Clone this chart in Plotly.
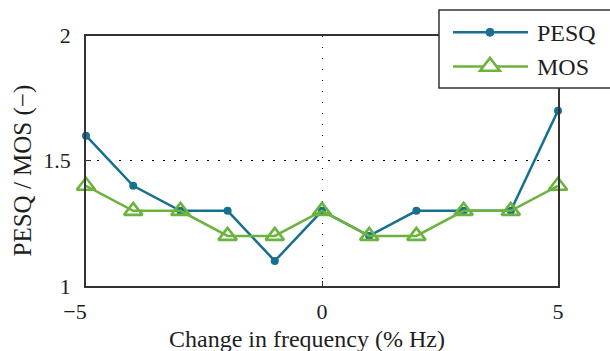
import plotly.graph_objects as go

freq_change = [-5, -4, -3, -2, -1, 0, 1, 2, 3, 4, 5]
pesq = [1.6, 1.4, 1.3, 1.3, 1.1, 1.3, 1.2, 1.3, 1.3, 1.3, 1.7]
mos = [1.4, 1.3, 1.3, 1.2, 1.2, 1.3, 1.2, 1.2, 1.3, 1.3, 1.4]
x_ticks = [-5, 0, 5]
x_ticktext = ["\u22125\u2007\u2007", "0", "5"]
y_ticks = [1, 1.5, 2]
y_ticktext = ["1", "1.5", "2"]
series_names = ["PESQ", "MOS"]

W, H = 610, 351
BLUE = "#17708f"
GREEN = "#6cb33e"
FONT = "Liberation Serif"
TXT = "#1e1e1e"
AX = "#333333"


def px(x):
    return x / W


def py(y):
    return 1 - y / H


fig = go.Figure()
fig.add_trace(go.Scatter(x=freq_change, y=pesq, mode="lines+markers", name=series_names[0],
                         line=dict(color=BLUE, width=2.5),
                         marker=dict(symbol="circle", size=8, color=BLUE),
                         cliponaxis=False, showlegend=False))
fig.add_trace(go.Scatter(x=freq_change, y=mos, mode="lines+markers", name=series_names[1],
                         line=dict(color=GREEN, width=2.5),
                         marker=dict(symbol="triangle-up-open", size=16, color=GREEN,
                                     line=dict(width=2.6, color=GREEN)),
                         cliponaxis=False, showlegend=False))

L, R, T, B = 86, 558, 35.5, 286
axis_common = dict(showline=True, mirror=True, linecolor=AX, linewidth=1.5,
                   showgrid=True, gridcolor="black", griddash="1.5px,9.5px", gridwidth=1.2,
                   zeroline=False, ticks="inside", ticklen=5, tickcolor=AX, tickwidth=1.2,
                   automargin=False,
                   tickfont=dict(family=FONT, size=22, color=TXT))
fig.update_layout(
    width=W, height=H, margin=dict(l=0, r=0, t=0, b=0, autoexpand=False),
    paper_bgcolor="white", plot_bgcolor="white", showlegend=False,
    xaxis=dict(domain=[px(L), px(R)], range=[-5, 5], tickvals=x_ticks, ticktext=x_ticktext,
               ticklabelstandoff=5, **axis_common),
    yaxis=dict(domain=[py(B), py(T)], range=[1, 2], tickvals=y_ticks, ticktext=y_ticktext,
               ticklabelstandoff=9, **axis_common),
)

# axis titles
fig.add_annotation(text="Change in frequency (% Hz)", x=px(307), y=py(338.5), xref="paper", yref="paper",
                   xanchor="center", yanchor="middle",
                   showarrow=False, font=dict(family=FONT, size=24, color=TXT))
fig.add_annotation(text="PESQ / MOS (\u2212)", x=px(22.5), y=py(171), xref="paper", yref="paper",
                   xanchor="center", yanchor="middle",
                   textangle=-90, showarrow=False, font=dict(family=FONT, size=25, color=TXT))

# manual legend (pixel positions converted to paper)
fig.add_shape(type="rect", xref="paper", yref="paper", x0=px(439), x1=px(640), y0=py(10), y1=py(88),
              line=dict(color=AX, width=1.5), fillcolor="white", layer="above")
rows = [(32.3, BLUE, "circle"), (66.5, GREEN, "triangle")]
for (yy, col, kind), name in zip(rows, series_names):
    fig.add_shape(type="line", xref="paper", yref="paper", x0=px(453), x1=px(528), y0=py(yy), y1=py(yy),
                  line=dict(color=col, width=2.5), layer="above")
    if kind == "circle":
        fig.add_shape(type="circle", xref="paper", yref="paper", x0=px(486), x1=px(494),
                      y0=py(yy - 4), y1=py(yy + 4),
                      line=dict(color=col, width=1), fillcolor=col, layer="above")
    else:
        s = 17 / 2
        rt, r2, rs = s * 2 / 3 ** 0.5, s / 2, s
        pts = [(490 - rt, yy + r2), (490 + rt, yy + r2), (490, yy - rs)]
        path = "M" + " L".join(f"{px(a):.5f},{py(b):.5f}" for a, b in pts) + " Z"
        fig.add_shape(type="path", xref="paper", yref="paper", path=path,
                      line=dict(color=col, width=2.6), fillcolor="white", layer="above")
    fig.add_annotation(text=name, x=px(535), y=py(yy + 0.5), xref="paper", yref="paper",
                       xanchor="left", yanchor="middle",
                       showarrow=False, font=dict(family=FONT, size=24, color=TXT))

fig.write_html("out.html")
